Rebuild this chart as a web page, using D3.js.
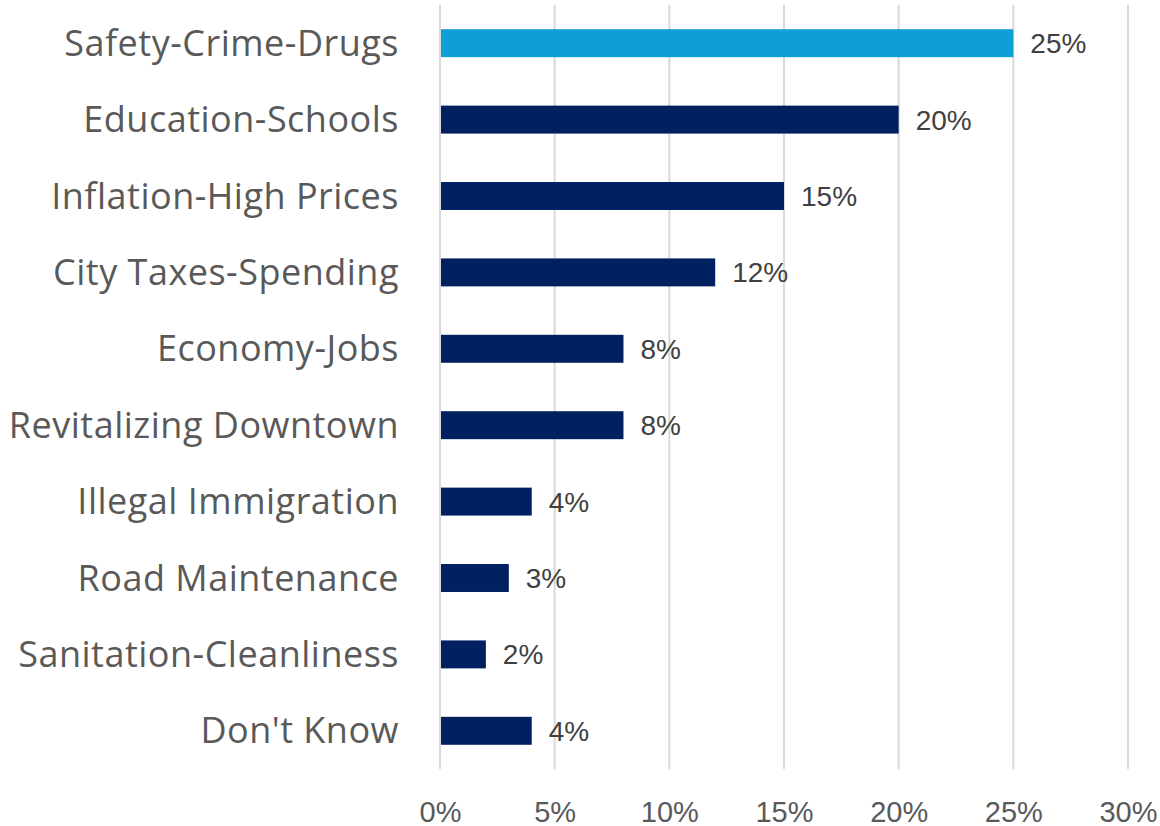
<!DOCTYPE html>
<html><head><meta charset="utf-8">
<script src="https://cdn.jsdelivr.net/npm/d3@7"></script>
<style>body{margin:0;background:#fff}</style>
</head><body>
<svg id="c" width="1160" height="826"></svg>
<script>
const categories = ["Safety-Crime-Drugs","Education-Schools","Inflation-High Prices","City Taxes-Spending","Economy-Jobs","Revitalizing Downtown","Illegal Immigration","Road Maintenance","Sanitation-Cleanliness","Don't Know"];
const values = [25,20,15,12,8,8,4,3,2,4];
const highlight = ["Safety-Crime-Drugs"];
const tickValues = [0,5,10,15,20,25,30];

const svg = d3.select("#c");
const x = d3.scaleLinear().domain([0,30]).range([440,1128]);
const y = d3.scaleBand().domain(categories).range([5,769]).paddingInner(0.634).paddingOuter(0.317);

// gridlines
svg.append("g").selectAll("line").data(tickValues).join("line")
  .attr("x1",d=>x(d)).attr("x2",d=>x(d)).attr("y1",5).attr("y2",769)
  .attr("stroke","#d9d9d9").attr("stroke-width",2);

// x axis labels
const xa = svg.append("g").attr("transform","translate(0,769)")
  .call(d3.axisBottom(x).tickValues(tickValues).tickFormat(d=>d+"%").tickSize(0).tickPadding(32));
xa.select(".domain").remove();
xa.selectAll("text").attr("fill","#595959").attr("font-family","'Liberation Sans', Arial, sans-serif").attr("font-size","29px");

// bars
const data = categories.map((c,i)=>({c, v:values[i]}));
svg.append("g").selectAll("rect").data(data).join("rect")
  .attr("x",x(0)+1).attr("y",d=>y(d.c)).attr("height",y.bandwidth())
  .attr("width",d=>x(d.v)-x(0)-1)
  .attr("fill",d=>highlight.includes(d.c)?"#0F9ED5":"#002060");

// value labels
svg.append("g").selectAll("text").data(data).join("text")
  .attr("x",d=>x(d.v)+17).attr("y",d=>y(d.c)+y.bandwidth()/2)
  .attr("dy","0.36em").attr("fill","#404040")
  .attr("font-family","'Liberation Sans', Arial, sans-serif").attr("font-size","28px")
  .text(d=>d.v+"%");

// y axis labels
const ya = svg.append("g").attr("transform","translate(440,0)")
  .call(d3.axisLeft(y).tickSize(0).tickPadding(41));
ya.select(".domain").remove();
ya.selectAll("text").attr("fill","#595959").attr("font-family","'Open Sans', sans-serif").attr("font-size","36px").attr("letter-spacing","0.5px").attr("dy","0.35em");
</script>
</body></html>
